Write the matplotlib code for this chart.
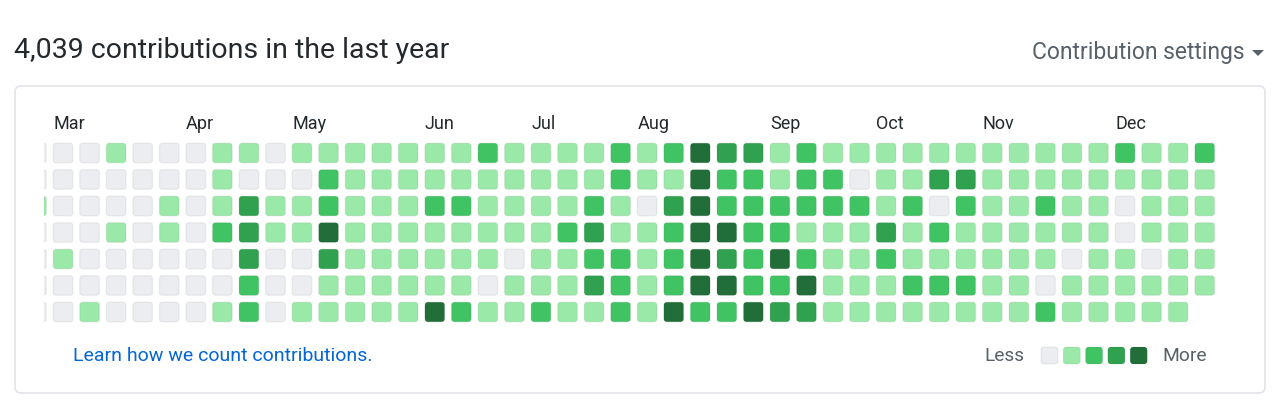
import matplotlib
matplotlib.use("Agg")
import matplotlib.pyplot as plt
from matplotlib.patches import FancyBboxPatch

plt.rcParams['font.family'] = ['Roboto', 'DejaVu Sans']

# contribution level (0-4) per week, rows = Sun..Sat
weeks = [
    [0, 0, 1, 0, 0, 0, 0],
    [0, 0, 0, 0, 1, 0, 0],
    [0, 0, 0, 0, 0, 0, 1],
    [1, 0, 0, 1, 0, 0, 0],
    [0, 0, 0, 0, 0, 0, 0],
    [0, 0, 1, 1, 0, 0, 0],
    [0, 0, 0, 0, 0, 0, 0],
    [1, 1, 1, 2, 0, 0, 1],
    [1, 0, 3, 3, 3, 2, 2],
    [0, 0, 1, 1, 0, 0, 0],
    [1, 0, 1, 1, 0, 0, 1],
    [1, 2, 2, 4, 3, 1, 1],
    [1, 1, 1, 1, 1, 1, 1],
    [1, 1, 1, 1, 1, 1, 1],
    [1, 1, 1, 1, 1, 1, 1],
    [1, 1, 2, 1, 1, 1, 4],
    [1, 1, 2, 1, 1, 1, 2],
    [2, 1, 1, 1, 1, 0, 1],
    [1, 1, 1, 1, 0, 1, 1],
    [1, 1, 1, 1, 1, 1, 2],
    [1, 1, 1, 2, 1, 1, 1],
    [1, 1, 2, 3, 2, 3, 1],
    [2, 2, 1, 1, 2, 2, 2],
    [1, 1, 0, 1, 1, 1, 1],
    [2, 1, 3, 2, 2, 2, 4],
    [4, 4, 4, 4, 4, 4, 2],
    [3, 2, 2, 4, 3, 4, 2],
    [3, 2, 2, 2, 2, 2, 4],
    [1, 1, 2, 2, 4, 2, 3],
    [2, 2, 2, 1, 2, 4, 3],
    [1, 2, 2, 1, 1, 1, 1],
    [1, 0, 2, 1, 1, 1, 1],
    [1, 1, 1, 3, 2, 1, 1],
    [1, 1, 2, 1, 1, 2, 1],
    [1, 3, 0, 2, 1, 2, 1],
    [1, 3, 2, 1, 1, 2, 1],
    [1, 1, 1, 1, 1, 1, 1],
    [1, 1, 1, 1, 1, 1, 1],
    [1, 1, 2, 1, 1, 0, 2],
    [1, 1, 1, 1, 0, 1, 1],
    [1, 1, 1, 1, 1, 1, 1],
    [2, 1, 0, 0, 1, 1, 1],
    [1, 1, 1, 1, 0, 1, 1],
    [1, 1, 1, 1, 1, 1, 1],
    [2, 1, 1, 1, 1, 1],
]
months = ['Mar', 'Apr', 'May', 'Jun', 'Jul', 'Aug', 'Sep', 'Oct', 'Nov', 'Dec']
month_weeks = [1, 6, 10, 15, 19, 23, 28, 32, 36, 41]
total = 4039
level_colors = ['#ebedf0', '#9be9a8', '#40c463', '#30a14e', '#216e39']

W, H = 1280, 417
fig = plt.figure(figsize=(W / 100, H / 100), dpi=100)
fig.patch.set_facecolor('white')

# background axes in pixel units for the frame and page text
bg = fig.add_axes([0, 0, 1, 1])
bg.set_xlim(0, W)
bg.set_ylim(H, 0)
bg.axis('off')

bg.add_patch(FancyBboxPatch((15, 86), 1250, 307, boxstyle="round,pad=0,rounding_size=6",
                            fc='none', ec='#e1e4e8', lw=1.2))
bg.text(14, 50, f"{total:,} contributions in the last year", fontsize=20.5,
        color='#24292e', va='center', ha='left')
bg.text(1245, 52, "Contribution settings", fontsize=16.5, color='#586069',
        va='center', ha='right')
bg.fill([1252, 1264, 1258], [50, 50, 56], color='#586069', lw=0)

bg.text(73, 356, "Learn how we count contributions.", fontsize=14, color='#0366d6',
        va='center', ha='left')
bg.text(1025, 356, "Less", fontsize=13.8, color='#586069', va='center', ha='right')
bg.text(1162, 356, "More", fontsize=13.8, color='#586069', va='center', ha='left')
for k, c in enumerate(level_colors):
    bg.add_patch(FancyBboxPatch((1041 + k * 22.3, 347), 17, 17,
                                boxstyle="round,pad=0,rounding_size=3",
                                fc=c, ec=(0.1, 0.12, 0.14, 0.06), lw=1))

# calendar grid axes: x = week index, y = weekday index
step_x, step_y = 26.55, 26.5
x0, y0 = 36.5, 153
ax = fig.add_axes([44 / W, 1 - 330 / H, (1230 - 44) / W, (330 - 100) / H])
ax.set_xlim((44 - x0) / step_x, (1230 - x0) / step_x)
ax.set_ylim((330 - y0) / step_y, (100 - y0) / step_y)
ax.axis('off')

s = 0.74
for i, week in enumerate(weeks):
    for j, lv in enumerate(week):
        ax.add_patch(FancyBboxPatch((i - s / 2, j - s / 2), s, s,
                                    boxstyle="round,pad=0,rounding_size=0.12",
                                    fc=level_colors[lv], ec=(0.1, 0.12, 0.14, 0.06), lw=1))

for m, w in zip(months, month_weeks):
    ax.text(w - s / 2, -1.1, m, fontsize=13, color='#24292e', va='center', ha='left',
            clip_on=False)

fig.savefig('out.png', dpi=100, facecolor='white')
